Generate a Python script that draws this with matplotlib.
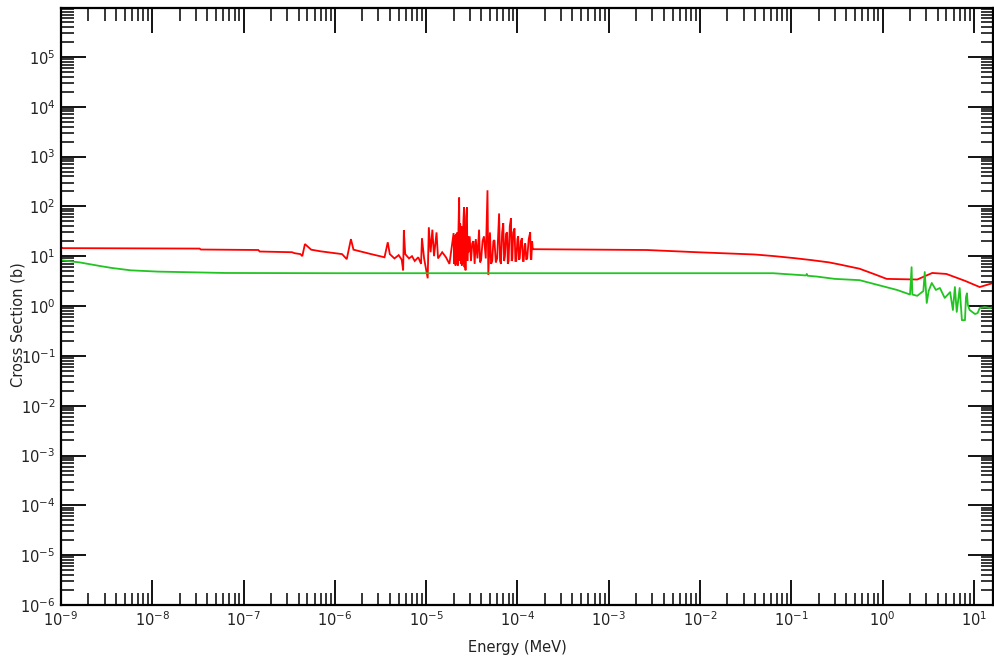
import matplotlib
matplotlib.use("Agg")
import matplotlib.pyplot as plt
from matplotlib.ticker import LogLocator, FuncFormatter, NullFormatter
import numpy as np

# ---- data (Energy in MeV, cross section in barns) ----
red_energy = [1e-9, 1.05e-9, 3.3e-8, 3.4e-8, 1.45e-7, 1.5e-7, 3.4e-7, 3.6e-7, 4.2e-7, 4.4e-7,
              4.7e-7, 5.5e-7, 7e-7, 1.2e-6, 1.35e-6, 1.5e-6, 1.6e-6, 2.5e-6, 3.5e-6, 3.8e-6,
              4.0e-6, 4.5e-6, 5.0e-6, 5.4e-6, 5.6e-6, 5.7e-6, 5.9e-6, 6.5e-6, 7.0e-6, 7.5e-6,
              8.2e-6, 8.8e-6, 9.0e-6, 9.5e-6, 1.04e-5, 1.07e-5, 1.12e-5, 1.17e-5, 1.22e-5, 1.3e-5,
              1.35e-5, 1.5e-5, 1.65e-5, 1.8e-5,
              2.0e-5, 2.03e-5, 2.06e-5, 2.1e-5, 2.13e-5, 2.16e-5, 2.2e-5, 2.23e-5, 2.26e-5, 2.3e-5,
              2.33e-5, 2.36e-5, 2.4e-5, 2.43e-5, 2.46e-5, 2.5e-5, 2.53e-5, 2.56e-5, 2.6e-5, 2.63e-5,
              2.66e-5, 2.7e-5, 2.74e-5, 2.8e-5, 2.83e-5, 2.87e-5, 2.9e-5,
              3.0e-5, 3.1e-5, 3.2e-5, 3.3e-5, 3.4e-5, 3.5e-5, 3.65e-5, 3.8e-5,
              3.9e-5, 4.0e-5, 4.15e-5, 4.3e-5, 4.5e-5, 4.7e-5, 4.8e-5, 5.0e-5, 5.15e-5, 5.3e-5,
              5.45e-5, 5.6e-5, 5.8e-5, 6.0e-5, 6.15e-5, 6.3e-5, 6.45e-5, 6.6e-5, 6.8e-5, 7.0e-5,
              7.15e-5, 7.3e-5, 7.5e-5, 7.7e-5, 7.85e-5, 8.0e-5, 8.25e-5, 8.5e-5, 8.65e-5, 8.8e-5,
              9.0e-5, 9.3e-5, 9.5e-5, 9.7e-5, 1.0e-4, 1.02e-4, 1.04e-4, 1.06e-4, 1.09e-4, 1.12e-4,
              1.15e-4, 1.17e-4, 1.2e-4, 1.22e-4, 1.25e-4, 1.28e-4, 1.33e-4, 1.38e-4, 1.4e-4, 1.42e-4,
              1.45e-4, 1.47e-4, 1.48e-4, 2.6e-3, 9.3e-3, 0.04, 0.066, 0.11, 0.17, 0.26,
              0.34, 0.56, 0.8, 1.11, 2.4, 3.5, 5.0, 8.0, 11.6, 16.3]
red_sigma = [15.0, 14.5, 14.2, 13.6, 13.3, 12.4, 12.0, 11.5, 11.0, 10.0,
             17.5, 13.5, 12.5, 11.0, 8.7, 22.0, 13.5, 11.0, 9.5, 19.0,
             11.0, 9.0, 10.5, 8.5, 5.2, 33.0, 11.0, 9.0, 10.0, 8.0,
             9.5, 7.0, 23.0, 9.0, 3.6, 38.0, 12.0, 34.0, 10.0, 30.0,
             9.0, 12.0, 9.5, 7.0,
             29.0, 7.0, 26.0, 6.5, 28.0, 7.0, 30.0, 6.5, 35.0, 150.0,
             8.0, 45.0, 7.0, 40.0, 6.5, 38.0, 7.0, 50.0, 95.0, 6.0,
             30.0, 5.2, 60.0, 95.0, 8.0, 25.0, 12.0,
             25.0, 8.0, 18.0, 20.0, 7.0, 22.0, 9.0, 34.0,
             7.5, 8.3, 20.0, 25.0, 9.0, 210.0, 4.2, 30.0, 7.0, 8.0,
             20.0, 21.0, 7.5, 9.0, 25.0, 72.0, 8.0, 7.0, 30.0, 46.0,
             8.0, 10.0, 28.0, 30.0, 7.0, 8.0, 40.0, 58.0, 8.0, 9.0,
             30.0, 36.0, 8.0, 8.0, 22.0, 25.0, 8.5, 9.0, 20.0, 23.0,
             8.0, 8.0, 16.0, 18.0, 8.5, 9.0, 22.0, 30.0, 9.0, 8.5,
             20.0, 14.0, 13.8, 13.3, 12.0, 10.8, 10.0, 9.1, 8.3, 7.5,
             6.8, 5.6, 4.4, 3.5, 3.4, 4.6, 4.4, 3.2, 2.4, 2.9]

green_energy = [1e-9, 1.6e-9, 2.6e-9, 3.6e-9, 5.8e-9, 1.15e-8, 6.3e-8, 1e-6, 0.063,
                0.145, 0.148, 0.151, 0.19, 0.30, 0.56, 1.0, 1.44, 2.0, 2.08,
                2.12, 2.4, 2.8, 2.9, 3.05, 3.2, 3.46, 3.84, 4.25, 4.8,
                5.5, 5.9, 6.2, 6.5, 7.0, 7.4, 8.0, 8.2, 8.4, 8.6,
                9.0, 10.3, 11.0, 11.6, 13.2, 15.0, 16.3]
green_sigma = [8.3, 7.5, 6.4, 5.8, 5.2, 4.9, 4.6, 4.55, 4.55,
               4.1, 4.4, 4.05, 3.9, 3.5, 3.3, 2.5, 2.1, 1.7, 6.0,
               1.7, 1.6, 2.0, 4.8, 1.15, 2.0, 2.9, 2.1, 2.3, 1.45,
               1.9, 0.83, 2.4, 0.76, 2.3, 0.52, 0.52, 1.5, 1.8, 1.05,
               0.83, 0.69, 0.72, 0.91, 0.95, 0.91, 0.95]

x_limits = (1e-9, 10 ** 1.21)
y_limits = (1e-6, 10 ** 5.98)

fig = plt.figure(figsize=(9.95, 6.57), dpi=100)
ax = fig.add_axes([61 / 995, 1 - 605 / 657, (993 - 61) / 995, (605 - 8) / 657])

ax.plot(red_energy, red_sigma, color='#ff0000', lw=1.3, solid_joinstyle='miter')
ax.plot(green_energy, green_sigma, color='#22c422', lw=1.3)

ax.set_xscale('log')
ax.set_yscale('log')
ax.set_xlim(*x_limits)
ax.set_ylim(*y_limits)

fmt = FuncFormatter(lambda v, p: r'$10^{%d}$' % int(round(np.log10(v))))
ax.xaxis.set_major_locator(LogLocator(base=10, numticks=30))
ax.yaxis.set_major_locator(LogLocator(base=10, numticks=30))
ax.xaxis.set_minor_locator(LogLocator(base=10, subs=np.arange(2, 10), numticks=30))
ax.yaxis.set_minor_locator(LogLocator(base=10, subs=np.arange(2, 10), numticks=30))
ax.xaxis.set_major_formatter(fmt)
ax.yaxis.set_major_formatter(fmt)
ax.xaxis.set_minor_formatter(NullFormatter())
ax.yaxis.set_minor_formatter(NullFormatter())

ax.tick_params(which='both', direction='in', top=True, right=True, color='black')
ax.tick_params(which='major', length=18, width=1.3, labelsize=10.5, pad=4, labelcolor='#222222')
ax.tick_params(which='minor', length=9, width=1.1)
for s in ax.spines.values():
    s.set_linewidth(1.6)

ax.set_xlabel('Energy (MeV)', fontsize=10.5, color='#222222', labelpad=0)
ax.set_ylabel('Cross Section (b)', fontsize=10.5, color='#222222', labelpad=0)
ax.yaxis.set_label_coords(-0.038, 0.47)
ax.xaxis.set_label_coords(0.49, -0.058)

fig.savefig('out.png', dpi=100)
